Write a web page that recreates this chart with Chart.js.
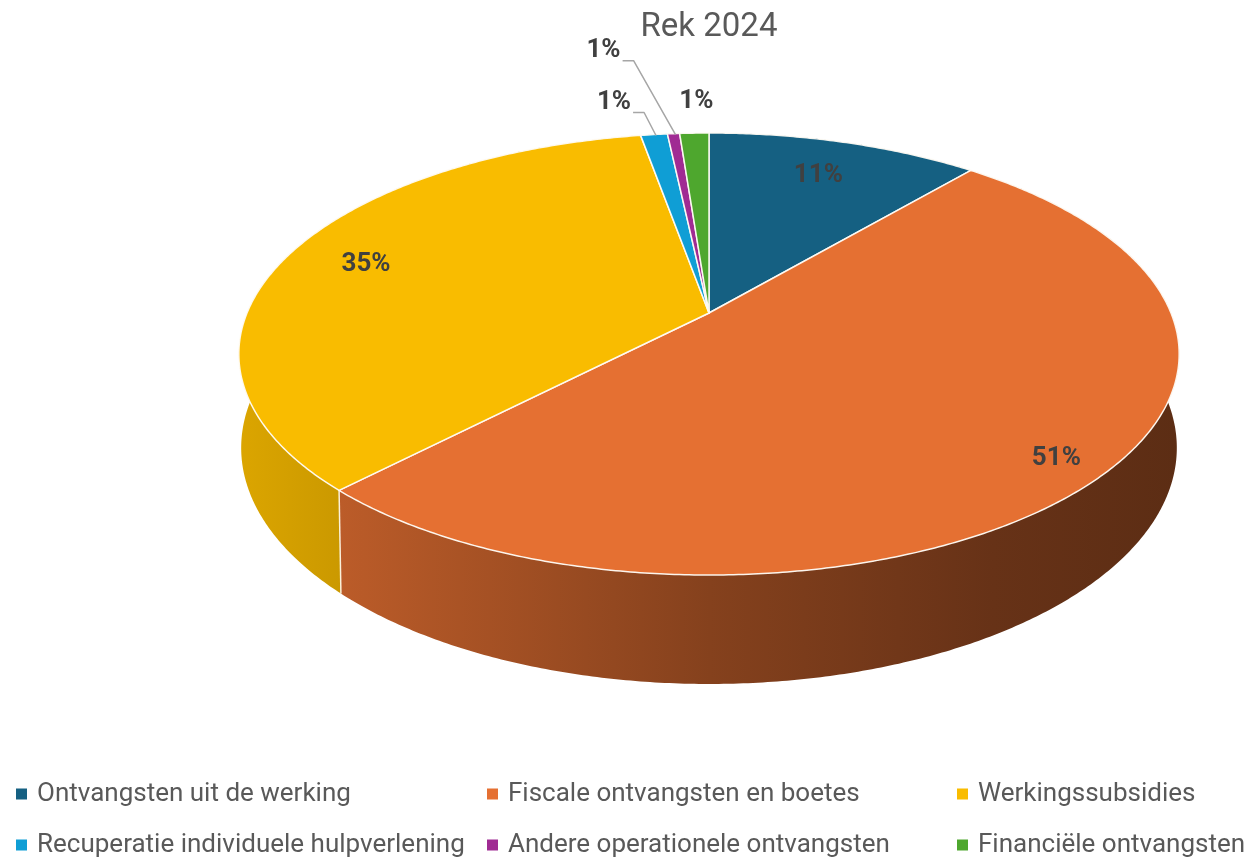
<!DOCTYPE html>
<html lang="nl">
<head>
    <meta charset="UTF-8">
    <title>Rek 2024</title>
    <script src="https://cdn.jsdelivr.net/npm/chart.js"></script>
    <style>
        html, body { margin: 0; padding: 0; background: #fff; }
        #wrap { width: 1253px; height: 861px; }
    </style>
</head>
<body>
<div id="wrap"><canvas id="revChart" width="1253" height="861"></canvas></div>
<script>
    // data
    const categories = [
        'Ontvangsten uit de werking',
        'Fiscale ontvangsten en boetes',
        'Werkingssubsidies',
        'Recuperatie individuele hulpverlening',
        'Andere operationele ontvangsten',
        'Financiële ontvangsten'
    ];
    const values = [11.2, 51.0, 35.0, 1.1, 0.5, 1.2];
    const colors = ['#156082', '#E57032', '#F9BC00', '#0F9ED5', '#A02B93', '#4EA72E'];
    const chartTitle = 'Rek 2024';

    const FONT = 'Roboto, "Noto Sans", sans-serif';

    // 3D look (perspective of a tilted disc), bottom rim slightly different
    const geo = { cy: 313, rx: 462, ry: 213.4, k: 0.1856, bottomCy: 404, bottomRy: 228, bottomSx: 0.995 };

    // label placement: f = fraction of radius inside slice, or offset from rim for small slices
    const labelPos = [
        { f: 0.78 },
        { f: 0.9 },
        { f: 0.81 },
        { dx: -40, dy: -32, leader: true },
        { dx: -70, dy: -83, leader: true },
        { dx: 2, dy: -32 }
    ];

    function shade(hex, f) {
        const n = parseInt(hex.slice(1), 16);
        const r = Math.round(((n >> 16) & 255) * f);
        const g = Math.round(((n >> 8) & 255) * f);
        const b = Math.round((n & 255) * f);
        return `rgb(${r},${g},${b})`;
    }

    function proj(cx, theta, f, bottom) {
        const u = Math.sin(theta) * f, v = Math.cos(theta) * f;
        const d = 1 + geo.k * v;
        if (bottom) {
            return [cx + geo.bottomSx * geo.rx * u / d, geo.bottomCy - geo.bottomRy * v / d];
        }
        return [cx + geo.rx * u / d, geo.cy - geo.ry * v / d];
    }

    function arcPoints(cx, a, b, bottom) {
        const pts = [];
        const n = Math.max(2, Math.ceil((b - a) / (Math.PI / 360)));
        for (let i = 0; i <= n; i++) pts.push(proj(cx, a + (b - a) * i / n, 1, bottom));
        return pts;
    }

    const pie3d = {
        id: 'pie3d',
        beforeDatasetsDraw(chart) {
            const ctx = chart.ctx;
            const meta = chart.getDatasetMeta(0);
            const cx = (chart.chartArea.left + chart.chartArea.right) / 2;
            const slices = meta.data.map((arc, i) => ({
                i,
                a: arc.startAngle + Math.PI / 2,
                b: arc.endAngle + Math.PI / 2
            }));

            ctx.save();
            // side walls
            slices.forEach(s => {
                const grad = ctx.createLinearGradient(240, 0, 1180, 0);
                const c = colors[s.i];
                grad.addColorStop(0, shade(c, 0.88));
                grad.addColorStop(0.5, shade(c, 0.58));
                grad.addColorStop(0.8, shade(c, 0.45));
                grad.addColorStop(1, shade(c, 0.40));
                const top = arcPoints(cx, s.a, s.b, false);
                const bot = arcPoints(cx, s.a, s.b, true).reverse();
                ctx.beginPath();
                top.concat(bot).forEach((p, j) => j ? ctx.lineTo(p[0], p[1]) : ctx.moveTo(p[0], p[1]));
                ctx.closePath();
                ctx.fillStyle = grad;
                ctx.fill();
            });
            // wall seams
            ctx.strokeStyle = 'rgba(255,250,235,0.9)';
            ctx.lineWidth = 1.5;
            slices.forEach(s => {
                const t = s.a;
                if (Math.cos(t) < -0.15) {
                    const p = proj(cx, t, 1, false), q = proj(cx, t, 1, true);
                    ctx.beginPath();
                    ctx.moveTo(p[0], p[1]);
                    ctx.lineTo(q[0], q[1]);
                    ctx.stroke();
                }
            });
            // top faces
            slices.forEach(s => {
                const top = arcPoints(cx, s.a, s.b, false);
                ctx.beginPath();
                ctx.moveTo(cx, geo.cy);
                top.forEach(p => ctx.lineTo(p[0], p[1]));
                ctx.closePath();
                ctx.fillStyle = colors[s.i];
                ctx.fill();
                ctx.strokeStyle = 'rgba(255,252,245,0.95)';
                ctx.lineWidth = 1.5;
                ctx.lineJoin = 'round';
                ctx.stroke();
            });

            // percentage labels
            const total = values.reduce((x, y) => x + y, 0);
            ctx.font = 'bold 26px ' + FONT;
            ctx.fillStyle = '#404040';
            ctx.textAlign = 'center';
            ctx.textBaseline = 'middle';
            slices.forEach(s => {
                const mid = (s.a + s.b) / 2;
                const txt = Math.round(values[s.i] * 100 / total) + '%';
                const lp = labelPos[s.i];
                if (lp.f) {
                    const p = proj(cx, mid, lp.f, false);
                    ctx.fillText(txt, p[0], p[1]);
                } else {
                    const anchor = proj(cx, mid, 1, false);
                    const lx = anchor[0] + lp.dx, ly = anchor[1] + lp.dy;
                    ctx.fillText(txt, lx, ly);
                    if (lp.leader) {
                        const w = ctx.measureText(txt).width;
                        ctx.save();
                        ctx.strokeStyle = '#A6A6A6';
                        ctx.lineWidth = 1.5;
                        ctx.beginPath();
                        ctx.moveTo(lx + w / 2 + 2, ly + 10);
                        ctx.lineTo(lx + w / 2 + 13, ly + 10);
                        ctx.lineTo(anchor[0] + 2, anchor[1] + 1);
                        ctx.stroke();
                        ctx.restore();
                    }
                }
            });
            ctx.restore();
            return false;
        },
        afterDraw(chart) {
            // legend laid out in three columns
            const ctx = chart.ctx;
            const colX = [16, 487, 957];
            const rowY = [794, 845];
            ctx.save();
            ctx.font = '26px ' + FONT;
            ctx.textBaseline = 'middle';
            ctx.textAlign = 'left';
            categories.forEach((name, i) => {
                const x = colX[i % 3], y = rowY[Math.floor(i / 3)];
                ctx.fillStyle = colors[i];
                ctx.fillRect(x, y - 5.5, 11, 11);
                ctx.fillStyle = '#595959';
                ctx.fillText(name, x + 21, y);
            });
            ctx.restore();
        }
    };

    new Chart(document.getElementById('revChart'), {
        type: 'pie',
        data: {
            labels: categories,
            datasets: [{
                data: values,
                backgroundColor: colors,
                borderColor: '#ffffff',
                borderWidth: 1.5
            }]
        },
        options: {
            responsive: false,
            animation: false,
            events: [],
            layout: { padding: { left: 165, bottom: 120 } },
            plugins: {
                legend: { display: false },
                tooltip: { enabled: false },
                title: {
                    display: true,
                    text: chartTitle,
                    color: '#595959',
                    font: { family: FONT, size: 33, weight: 'normal' },
                    padding: { top: 8, bottom: 10 }
                }
            }
        },
        plugins: [pie3d]
    });
</script>
</body>
</html>
